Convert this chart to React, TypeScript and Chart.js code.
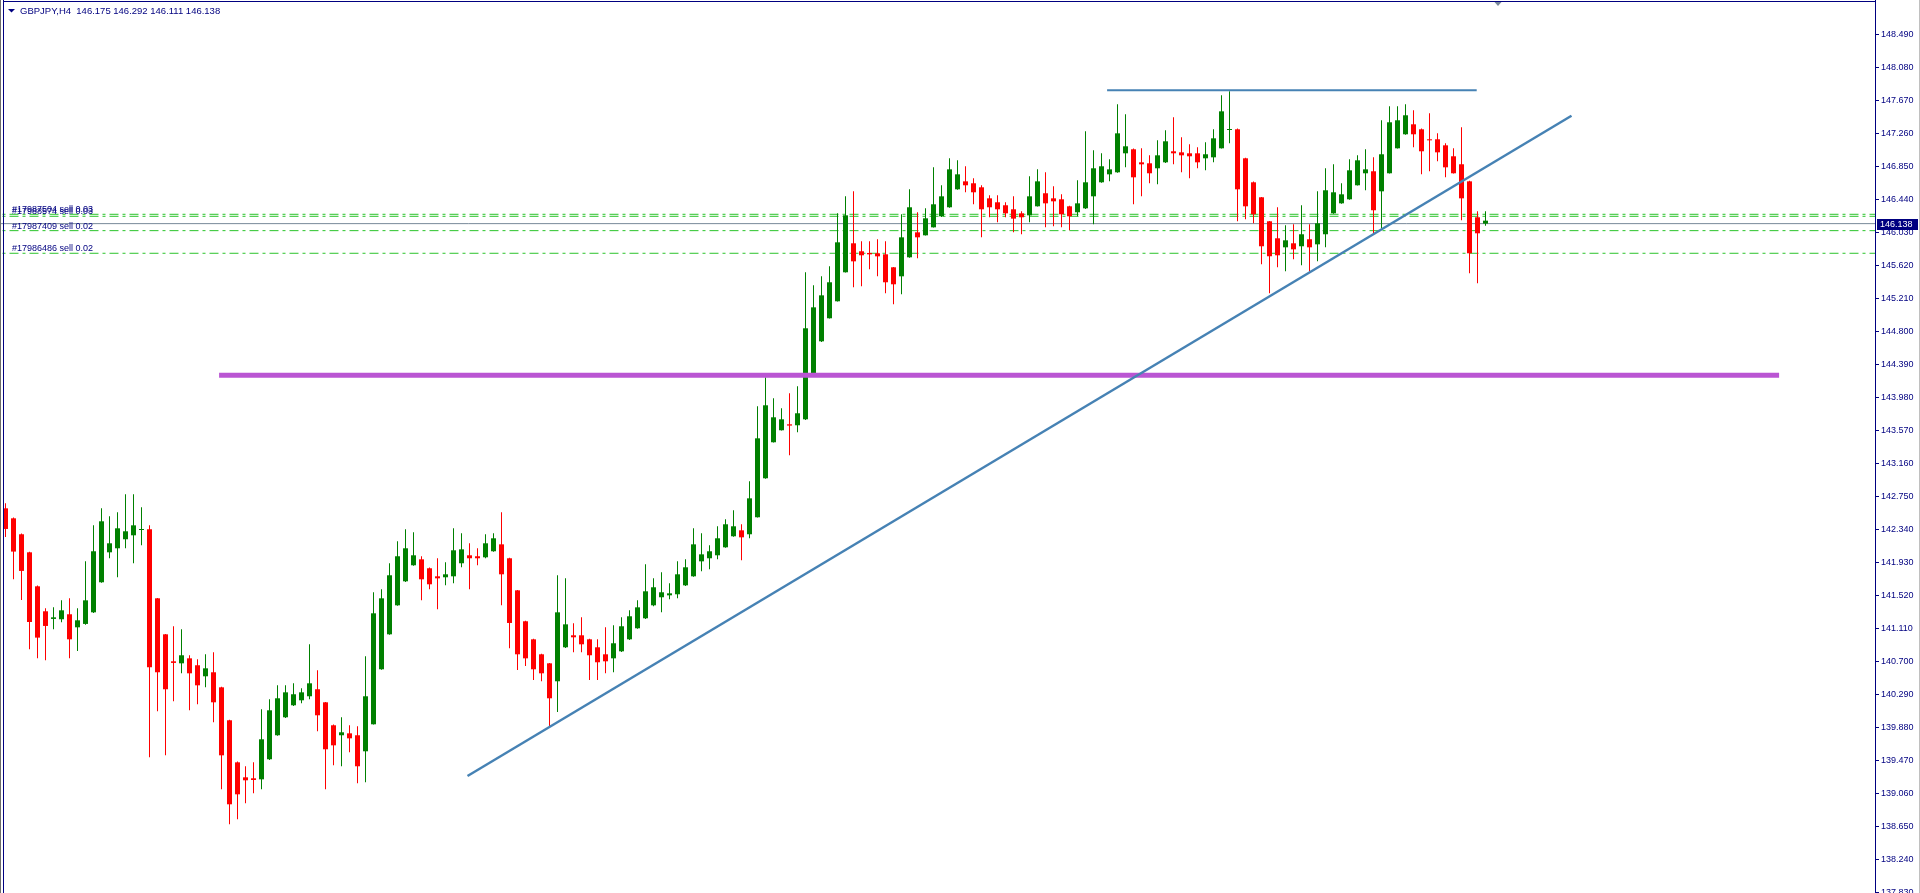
import React, { useEffect, useRef } from 'react';
import { Chart, registerables } from 'chart.js';

Chart.register(...registerables);

// ---- Data (GBPJPY, H4) ----
const OPEN = [
  142.604, 142.480, 142.282, 142.058, 141.636, 141.326, 141.231, 141.227, 141.289, 141.127,
  141.169, 141.313, 141.686, 142.058, 142.108, 142.220, 142.269, 142.335, 142.344, 141.487,
  141.040, 140.705, 140.680, 140.742, 140.656, 140.519, 140.569, 140.382, 139.973, 139.451,
  139.265, 139.253, 139.240, 139.489, 139.787, 140.010, 140.159, 140.221, 140.271, 140.358,
  140.196, 139.911, 139.787, 139.811, 139.787, 139.588, 139.923, 140.606, 141.040, 141.400,
  141.698, 141.897, 141.971, 141.860, 141.760, 141.748, 141.760, 141.922, 142.021, 142.009,
  141.996, 142.071, 142.157, 141.984, 141.586, 141.202, 140.978, 140.792, 140.680, 140.457,
  140.879, 141.028, 141.028, 140.978, 140.879, 140.792, 140.742, 140.829, 140.978, 141.115,
  141.239, 141.400, 141.500, 141.524, 141.537, 141.648, 141.760, 141.946, 141.984, 142.021,
  142.120, 142.257, 142.331, 142.282, 142.493, 142.977, 143.424, 143.573, 143.647, 143.635,
  143.709, 144.268, 144.677, 144.963, 145.174, 145.534, 145.894, 145.795, 145.774, 145.770,
  145.757, 145.596, 145.484, 145.720, 146.030, 145.993, 146.092, 146.229, 146.341, 146.564,
  146.663, 146.639, 146.589, 146.452, 146.403, 146.366, 146.316, 146.266, 146.241, 146.353,
  146.515, 146.452, 146.440, 146.353, 146.279, 146.328, 146.477, 146.651, 146.750, 146.775,
  147.011, 147.061, 146.899, 146.887, 146.825, 146.899, 147.036, 147.023, 147.011, 147.011,
  146.949, 146.961, 147.073, 147.300, 147.309, 146.949, 146.651, 146.465, 146.167, 145.956,
  145.844, 145.894, 145.857, 145.944, 145.881, 146.006, 146.266, 146.390, 146.440, 146.614,
  146.763, 146.788, 146.539, 146.763, 147.073, 147.247, 147.371, 147.309, 147.185, 147.185,
  147.110, 146.974, 146.875, 146.663, 146.217, 146.138,
];
const HIGH = [
  142.666, 142.490, 142.290, 142.065, 141.645, 141.363, 141.376, 141.462, 141.487, 141.363,
  141.946, 142.393, 142.604, 142.505, 142.555, 142.778, 142.778, 142.617, 142.393, 141.490,
  141.045, 141.140, 141.102, 140.780, 140.730, 140.792, 140.817, 140.390, 139.980, 139.460,
  139.402, 139.451, 140.109, 140.233, 140.407, 140.407, 140.432, 140.370, 140.916, 140.593,
  140.200, 139.920, 140.010, 139.911, 139.898, 140.767, 141.562, 141.599, 141.922, 142.195,
  142.344, 142.306, 142.009, 141.870, 141.984, 141.934, 142.356, 142.294, 142.170, 142.108,
  142.282, 142.294, 142.555, 141.990, 141.590, 141.210, 140.985, 140.800, 140.685, 141.773,
  141.735, 141.177, 141.251, 140.985, 140.978, 141.127, 141.152, 141.251, 141.338, 141.462,
  141.909, 141.735, 141.810, 141.673, 141.946, 141.971, 142.356, 142.294, 142.145, 142.381,
  142.468, 142.580, 142.406, 142.939, 143.870, 144.230, 143.970, 143.846, 144.032, 144.119,
  145.534, 145.372, 145.484, 145.608, 146.266, 146.477, 146.539, 145.919, 145.919, 145.943,
  145.919, 145.600, 146.254, 146.564, 146.279, 146.328, 146.837, 146.614, 146.949, 146.924,
  146.850, 146.701, 146.614, 146.490, 146.490, 146.403, 146.477, 146.291, 146.726, 146.812,
  146.775, 146.601, 146.502, 146.360, 146.676, 147.284, 147.048, 147.011, 146.937, 147.619,
  147.495, 147.070, 147.073, 146.986, 147.172, 147.297, 147.458, 147.210, 147.123, 147.086,
  147.148, 147.309, 147.731, 147.781, 147.320, 146.955, 146.660, 146.470, 146.170, 146.341,
  146.117, 146.130, 146.366, 146.130, 146.539, 146.825, 146.875, 146.639, 146.937, 146.986,
  147.061, 146.961, 147.421, 147.594, 147.594, 147.619, 147.545, 147.320, 147.508, 147.259,
  147.135, 147.073, 147.334, 146.670, 146.291, 146.292,
];
const LOW = [
  142.249, 141.723, 141.467, 140.854, 140.742, 140.718, 141.102, 141.189, 140.742, 140.833,
  141.160, 141.305, 141.680, 141.984, 141.748, 142.108, 141.922, 142.145, 139.514, 140.085,
  139.538, 140.209, 140.556, 140.097, 140.171, 140.382, 139.948, 139.116, 138.682, 138.744,
  138.943, 139.067, 139.116, 139.480, 139.780, 140.000, 140.150, 140.184, 140.233, 139.836,
  139.116, 139.414, 139.402, 139.576, 139.191, 139.203, 139.920, 140.600, 141.035, 141.395,
  141.690, 141.890, 141.462, 141.599, 141.351, 141.649, 141.673, 141.872, 141.599, 141.897,
  141.984, 142.065, 141.400, 140.866, 140.598, 140.647, 140.473, 140.457, 139.886, 140.076,
  140.870, 140.817, 140.817, 140.473, 140.473, 140.556, 140.569, 140.820, 140.970, 141.110,
  141.230, 141.390, 141.313, 141.475, 141.487, 141.640, 141.755, 141.822, 141.847, 141.971,
  142.115, 142.250, 141.959, 142.232, 142.490, 142.970, 143.420, 143.570, 143.262, 143.548,
  143.700, 144.260, 144.670, 144.960, 145.170, 145.530, 145.348, 145.360, 145.571, 145.484,
  145.273, 145.137, 145.261, 145.715, 145.708, 145.990, 146.090, 146.220, 146.335, 146.560,
  146.527, 146.378, 145.968, 146.217, 146.154, 146.217, 146.030, 146.006, 146.155, 146.350,
  146.093, 146.105, 146.093, 146.055, 146.229, 146.320, 146.130, 146.645, 146.663, 146.770,
  146.837, 146.378, 146.477, 146.639, 146.626, 146.890, 146.874, 146.775, 146.701, 146.825,
  146.800, 146.899, 147.070, 147.135, 146.167, 146.192, 146.142, 145.633, 145.273, 145.596,
  145.546, 145.695, 145.621, 145.546, 145.670, 145.844, 146.260, 146.385, 146.435, 146.610,
  146.552, 146.006, 146.080, 146.760, 147.070, 147.240, 147.086, 146.750, 146.788, 146.912,
  146.713, 146.760, 146.179, 145.522, 145.397, 146.111,
];
const CLOSE = [
  142.348, 142.067, 141.827, 141.193, 140.999, 141.144, 141.251, 141.338, 140.978, 141.214,
  141.462, 142.071, 142.443, 142.170, 142.356, 142.319, 142.393, 142.342, 140.631, 140.569,
  140.358, 140.685, 140.780, 140.556, 140.407, 140.618, 140.196, 139.538, 138.930, 139.054,
  139.228, 139.232, 139.737, 140.097, 140.246, 140.320, 140.296, 140.320, 140.432, 140.035,
  139.613, 139.662, 139.824, 139.749, 139.402, 140.271, 141.301, 141.487, 141.773, 142.009,
  142.108, 142.021, 141.723, 141.661, 141.735, 141.785, 142.083, 142.095, 141.984, 141.984,
  142.170, 142.232, 141.785, 141.181, 140.792, 140.742, 140.606, 140.556, 140.246, 141.313,
  141.164, 141.003, 140.916, 140.780, 140.693, 140.705, 140.929, 141.140, 141.264, 141.375,
  141.574, 141.624, 141.562, 141.549, 141.785, 141.872, 142.157, 142.033, 142.071, 142.232,
  142.406, 142.381, 142.244, 142.728, 143.473, 143.883, 143.734, 143.709, 143.631, 143.784,
  144.839, 145.099, 145.248, 145.410, 145.906, 146.241, 145.670, 145.745, 145.757, 145.732,
  145.410, 145.385, 145.968, 146.341, 145.968, 146.204, 146.378, 146.477, 146.812, 146.750,
  146.614, 146.527, 146.316, 146.341, 146.316, 146.266, 146.200, 146.217, 146.477, 146.663,
  146.390, 146.415, 146.254, 146.229, 146.390, 146.651, 146.825, 146.850, 146.812, 147.259,
  147.098, 146.713, 146.874, 146.763, 146.986, 147.160, 147.011, 146.986, 146.974, 146.899,
  146.999, 147.197, 147.532, 147.310, 146.564, 146.353, 146.254, 145.857, 145.733, 145.745,
  145.931, 145.819, 146.006, 145.844, 146.142, 146.552, 146.527, 146.502, 146.800, 146.924,
  146.812, 146.304, 146.999, 147.396, 147.421, 147.483, 147.247, 147.036, 147.172, 147.023,
  146.837, 146.763, 146.452, 145.770, 146.018, 146.175,
];

const PRICE_TICKS = [
  148.49, 148.08, 147.67, 147.26, 146.85, 146.44, 146.03, 145.62, 145.21, 144.8,
  144.39, 143.98, 143.57, 143.16, 142.75, 142.34, 141.93, 141.52, 141.11, 140.7,
  140.29, 139.88, 139.47, 139.06, 138.65, 138.24, 137.83,
];

const SYMBOL_TITLE = 'GBPJPY,H4';
const HEADER_VALUES = ['146.175', '146.292', '146.111', '146.138'];
const BID_PRICE = 146.138;

const ORDER_PRICES = [146.254, 146.229, 146.051, 145.770];
const ORDER_LABELS = ['#17987504 sell 0.03', '#17988574 sell 0.03', '#17987409 sell 0.02', '#17986486 sell 0.02'];

const SUPPORT_PRICE = 144.255;
const SUPPORT_BARS = [26.7, 221.7];
const TOP_PRICE = 147.793;
const TOP_BARS = [137.7, 183.9];
const TREND_BARS = [57.75, 195.75];
const TREND_PRICES = [139.281, 147.477];

const BULL = '#008000';
const BEAR = '#FF0000';
const NAVY = '#000080';

export default function App() {
  const ref = useRef<HTMLCanvasElement>(null);

  useEffect(() => {
    const canvas = ref.current;
    if (!canvas) return;
    const idx = OPEN.map((_, i) => i);
    const colors = idx.map((i) => (CLOSE[i] >= OPEN[i] ? BULL : BEAR));

    const overlay = {
      id: 'mt4overlay',
      afterDraw(chart: any) {
        const ctx = chart.ctx as CanvasRenderingContext2D;
        const ys = chart.scales.y;
        const area = chart.chartArea;
        ctx.save();
        // frame
        ctx.fillStyle = '#6d6d6d';
        ctx.fillRect(0, 0, 1, 893);
        ctx.fillStyle = '#c0c0c0';
        ctx.fillRect(1919, 0, 1, 893);
        ctx.fillStyle = NAVY;
        ctx.fillRect(3, 0, 1, 893);
        ctx.fillRect(3, 1, area.right - 3, 1);
        // header
        ctx.beginPath();
        ctx.moveTo(8, 9);
        ctx.lineTo(15, 9);
        ctx.lineTo(11.5, 12.5);
        ctx.closePath();
        ctx.fill();
        ctx.font = '9.5px "Liberation Sans", Arial, sans-serif';
        ctx.textBaseline = 'alphabetic';
        ctx.textAlign = 'left';
        ctx.fillText(SYMBOL_TITLE + '  ' + HEADER_VALUES.join(' '), 20, 14);
        // chart shift marker
        ctx.fillStyle = '#778899';
        ctx.beginPath();
        ctx.moveTo(1494.5, 2);
        ctx.lineTo(1501.5, 2);
        ctx.lineTo(1498, 6);
        ctx.closePath();
        ctx.fill();
        // order labels
        ctx.font = '9px "Liberation Sans", Arial, sans-serif';
        ctx.fillStyle = NAVY;
        ORDER_LABELS.forEach((label, k) => {
          const y = ys.getPixelForValue(ORDER_PRICES[k]);
          ctx.fillText(label, 12, y - 2);
        });
        // bid label
        const by = Math.round(ys.getPixelForValue(BID_PRICE));
        ctx.fillStyle = NAVY;
        ctx.fillRect(area.right + 2, by - 5, 41, 11);
        ctx.fillStyle = '#ffffff';
        ctx.textBaseline = 'middle';
        ctx.fillText(BID_PRICE.toFixed(3), area.right + 5, by + 0.5);
        ctx.restore();
      },
    };

    const fullSpan = [-2, 240];
    const chart = new Chart(canvas, {
      type: 'bar',
      data: {
        datasets: [
          {
            type: 'line',
            data: [{ x: fullSpan[0], y: BID_PRICE }, { x: fullSpan[1], y: BID_PRICE }],
            borderColor: '#778899',
            borderWidth: 1,
            pointRadius: 0,
            order: 30,
          },
          ...ORDER_PRICES.map((p) => ({
            type: 'line',
            data: [{ x: fullSpan[0], y: p }, { x: fullSpan[1], y: p }],
            borderColor: '#2BC42B',
            borderWidth: 1,
            borderDash: [9, 4, 3, 4],
            pointRadius: 0,
            order: 25,
          })),
          {
            type: 'bar',
            data: idx.map((i) => ({ x: i, y: [LOW[i], HIGH[i]] })),
            backgroundColor: colors,
            barThickness: 1,
            grouped: false,
            inflateAmount: 0,
            borderWidth: 0,
            minBarLength: 1,
            order: 12,
          },
          {
            type: 'bar',
            data: idx.map((i) => ({ x: i, y: [OPEN[i], CLOSE[i]] })),
            backgroundColor: colors,
            barThickness: 5,
            grouped: false,
            inflateAmount: 0,
            borderWidth: 0,
            minBarLength: 1,
            order: 10,
          },
          {
            type: 'line',
            data: [{ x: SUPPORT_BARS[0], y: SUPPORT_PRICE }, { x: SUPPORT_BARS[1], y: SUPPORT_PRICE }],
            borderColor: '#BA55D3',
            borderWidth: 5,
            pointRadius: 0,
            order: 2,
          },
          {
            type: 'line',
            data: [{ x: TOP_BARS[0], y: TOP_PRICE }, { x: TOP_BARS[1], y: TOP_PRICE }],
            borderColor: '#4682B4',
            borderWidth: 2,
            pointRadius: 0,
            order: 1,
          },
          {
            type: 'line',
            data: [{ x: TREND_BARS[0], y: TREND_PRICES[0] }, { x: TREND_BARS[1], y: TREND_PRICES[1] }],
            borderColor: '#4682B4',
            borderWidth: 2.5,
            pointRadius: 0,
            order: 0,
          },
        ] as any,
      },
      options: {
        animation: false,
        responsive: false,
        devicePixelRatio: 1,
        layout: { padding: 0 },
        plugins: { legend: { display: false }, tooltip: { enabled: false } },
        scales: {
          x: {
            type: 'linear',
            display: false,
            offset: false,
            min: -0.6875,
            max: 233.6875,
            grid: { offset: false },
          },
          y: {
            type: 'linear',
            position: 'right',
            min: 137.829,
            max: 148.914,
            beginAtZero: false,
            afterBuildTicks: (scale: any) => {
              scale.ticks = PRICE_TICKS.map((v) => ({ value: v }));
            },
            afterFit: (scale: any) => {
              scale.width = 45;
              scale.paddingTop = 0;
              scale.paddingBottom = 0;
            },
            ticks: {
              autoSkip: false,
              padding: 2,
              color: NAVY,
              font: { family: '"Liberation Sans", Arial, sans-serif', size: 9 },
              callback: (v: any) => Number(v).toFixed(3),
            },
            grid: { drawOnChartArea: false, drawTicks: true, tickLength: 4, color: NAVY },
            border: { display: true, color: NAVY, width: 1 },
          },
        },
      } as any,
      plugins: [overlay],
    });
    return () => chart.destroy();
  }, []);

  return (
    <div style={{ position: 'absolute', left: 0, top: 0, width: 1920, height: 893, background: '#ffffff' }}>
      <canvas ref={ref} width={1920} height={893} style={{ display: 'block', width: 1920, height: 893 }} />
    </div>
  );
}
